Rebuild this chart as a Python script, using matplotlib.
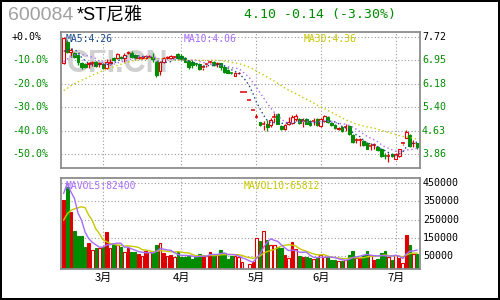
import numpy as np
import pandas as pd
import matplotlib
matplotlib.use('Agg')
import matplotlib.pyplot as plt
from matplotlib.patches import Rectangle
from matplotlib.transforms import blended_transform_factory as btf

# ---------------- data ----------------
code = "600084"
name = "*ST尼雅"

open_ = [6.85, 7.56, 7.23, 7.20, 7.12, 6.85, 6.81, 6.83, 6.86, 6.90,
         6.83, 6.81, 6.68, 6.85, 7.01, 7.01, 7.06, 7.01, 7.17, 7.20,
         7.12, 7.02, 7.02, 7.01, 7.05, 7.06, 6.90, 6.60, 6.90, 7.01,
         7.01, 7.05, 7.15, 7.10, 7.01, 6.92, 6.90, 6.85, 6.81, 6.70,
         6.80, 6.87, 6.90, 6.83, 6.85, 6.74, 6.63, 6.53, 6.43, 6.52,
         5.91, 5.91, 5.63, 5.33, 5.09, 4.91, 4.83, 4.87, 4.82, 5.06,
         5.17, 4.79, 4.68, 4.85, 4.90, 5.01, 5.01, 4.94, 5.01, 4.96,
         4.94, 5.01, 4.79, 4.96, 5.07, 4.90, 4.82, 4.68, 4.77, 4.74,
         4.79, 4.49, 4.32, 4.32, 4.29, 4.22, 4.12, 4.15, 4.11, 4.02,
         3.82, 3.80, 3.86, 3.72, 3.81, 4.21, 4.41, 4.49, 4.22, 4.24]
high = [7.70, 7.61, 7.34, 7.23, 7.15, 6.90, 6.85, 6.90, 6.93, 6.93,
        6.90, 6.85, 6.99, 6.99, 7.04, 7.20, 7.09, 7.17, 7.26, 7.26,
        7.15, 7.09, 7.09, 7.12, 7.11, 7.17, 6.93, 6.93, 7.04, 7.10,
        7.12, 7.10, 7.20, 7.15, 7.04, 6.96, 6.96, 6.87, 6.85, 6.79,
        6.87, 6.93, 6.93, 6.88, 6.86, 6.76, 6.65, 6.55, 6.56, 6.57,
        5.91, 5.91, 5.63, 5.33, 5.17, 4.93, 4.96, 4.98, 5.04, 5.20,
        5.20, 4.82, 4.85, 5.07, 5.15, 5.18, 5.04, 5.04, 5.04, 4.99,
        5.04, 5.04, 5.04, 5.15, 5.12, 4.93, 4.85, 4.76, 4.80, 4.87,
        4.82, 4.52, 4.38, 4.38, 4.33, 4.25, 4.22, 4.22, 4.14, 4.05,
        3.89, 3.89, 3.89, 3.89, 4.05, 4.25, 4.66, 4.52, 4.33, 4.24]
low = [6.82, 7.20, 7.06, 7.01, 6.79, 6.65, 6.68, 6.68, 6.76, 6.71,
       6.74, 6.65, 6.65, 6.79, 6.93, 6.98, 6.98, 6.90, 7.15, 7.01,
       6.98, 6.98, 6.98, 6.98, 7.02, 6.90, 6.39, 6.46, 6.87, 6.98,
       6.98, 7.01, 6.96, 6.96, 6.88, 6.65, 6.68, 6.76, 6.63, 6.63,
       6.74, 6.81, 6.76, 6.74, 6.63, 6.52, 6.52, 6.48, 6.42, 6.51,
       5.91, 5.91, 5.63, 5.33, 5.04, 4.80, 4.66, 4.63, 4.77, 4.93,
       4.85, 4.66, 4.66, 4.82, 4.85, 4.96, 4.85, 4.77, 4.84, 4.79,
       4.82, 4.79, 4.76, 4.93, 4.90, 4.79, 4.70, 4.66, 4.60, 4.63,
       4.49, 4.24, 4.22, 4.13, 4.13, 4.02, 4.00, 4.03, 3.98, 3.78,
       3.69, 3.62, 3.78, 3.69, 3.78, 4.18, 4.38, 4.11, 4.11, 4.05]
close = [7.67, 7.23, 7.28, 7.06, 6.90, 6.71, 6.71, 6.85, 6.87, 6.76,
         6.85, 6.68, 6.88, 6.90, 6.96, 7.15, 7.01, 7.12, 7.23, 7.06,
         7.01, 7.04, 7.04, 7.09, 7.06, 6.98, 6.46, 6.90, 7.01, 7.06,
         7.09, 7.06, 7.01, 6.98, 6.90, 6.74, 6.79, 6.84, 6.65, 6.71,
         6.81, 6.88, 6.79, 6.85, 6.71, 6.57, 6.54, 6.52, 6.54, 6.54,
         5.91, 5.91, 5.63, 5.33, 5.10, 4.82, 4.84, 4.77, 4.98, 5.07,
         4.87, 4.68, 4.82, 4.93, 5.07, 5.12, 4.90, 4.95, 4.87, 4.82,
         4.95, 4.82, 5.01, 5.12, 4.93, 4.82, 4.73, 4.73, 4.63, 4.74,
         4.52, 4.27, 4.33, 4.33, 4.16, 4.05, 4.13, 4.16, 4.00, 3.81,
         3.81, 3.81, 3.80, 3.87, 4.02, 4.22, 4.60, 4.13, 4.24, 4.10]
volume = [358000, 431500, 294000, 188000, 160400, 160400, 101800, 120000, 83500, 92600,
          96300, 101800, 180500, 92600, 116400, 110900, 101800, 70600, 92600, 70600,
          74300, 63300, 52300, 78000, 74300, 65200, 110900, 120000, 68800, 50500,
          56000, 46800, 70000, 46800, 46800, 52300, 34000, 46800, 59700, 52300,
          52300, 74300, 56000, 56000, 81600, 65200, 34000, 52300, 52300, 46800,
          15700, 0, 4700, 15700, 147600, 133000, 188000, 138400, 111000, 111000,
          101800, 92600, 56000, 37700, 125600, 89000, 50500, 46800, 46800, 37700,
          34000, 41300, 56000, 46800, 46800, 28500, 28500, 23000, 23000, 28500,
          56000, 78000, 41300, 41300, 56000, 78000, 56000, 28500, 34000, 65200,
          75000, 46800, 28520, 54500, 41300, 12000, 168000, 108000, 61000, 63000]
# red volume bars drawn solid (others red are hollow)
solid_red_vol = [0, 2, 7, 12, 18, 21, 23, 28, 30, 39, 41, 53, 62, 64, 67, 83, 87, 94, 96]

# closes / volumes before the first shown day (needed for the moving averages)
pre_close = [4.90, 4.95, 5.00, 5.05, 5.10, 5.12, 5.15, 5.20, 5.25, 5.30, 5.39,
             5.50, 5.60, 5.70, 5.80, 5.90, 6.00, 6.10, 6.20, 6.30, 6.40, 6.49,
             6.50, 6.60, 6.80, 7.00, 7.10, 7.20, 7.23]
pre_volume = [95000, 110000, 100000, 105000, 98000, 156000, 524000, 373000, 563000]

month_labels = ['3月', '4月', '5月', '6月', '7月']
month_start = [11, 33, 54, 72, 93]

price_base = 7.72
pct_levels = [0, -10, -20, -30, -40, -50]
vol_ticks = [450000, 350000, 250000, 150000, 50000]

# ---------------- style ----------------
RED = '#dd0000'
GREEN = '#008c00'
C_MA5 = '#1a4a8a'
C_MA10 = '#a66cff'
C_MA30 = '#c8c800'
GRID = '#999999'
SPINE = '#8c8c8c'
MONO = 'DejaVu Sans Mono'

W, H = 500, 300
fig = plt.figure(figsize=(5, 3), dpi=100)
fig.patch.set_facecolor('white')


def axrect(l, t, r, b):
    return [l / W, 1 - b / H, (r - l) / W, (b - t) / H]


axp = fig.add_axes(axrect(60.7, 31.7, 420.3, 167.7))
axv = fig.add_axes(axrect(60.7, 178.3, 420.3, 269.3))

n = len(close)
x = np.arange(n)
xlim = (-0.84, n - 1 + 0.92)

# moving averages
allc = pd.Series(pre_close + close)
ma5 = allc.rolling(5).mean().to_numpy()[len(pre_close):]
ma10 = allc.rolling(10).mean().to_numpy()[len(pre_close):]
ma30 = allc.rolling(30).mean().to_numpy()[len(pre_close):]
allv = pd.Series(pre_volume + volume, dtype=float)
mav5 = allv.rolling(5).mean().to_numpy()[len(pre_volume):]
mav10 = allv.rolling(10).mean().to_numpy()[len(pre_volume):]

for ax in (axp, axv):
    ax.set_xlim(*xlim)
    ax.set_xticks([])
    ax.set_yticks([])
    for s in ax.spines.values():
        s.set_color(SPINE)
        s.set_linewidth(1.3)
    for m in month_start:
        ax.axvline(m, color=GRID, lw=0.8, ls=(0, (1, 2)), zorder=0)

# ---------------- price panel ----------------
step = price_base * 0.1
p_top = price_base + 5 / 23.5 * step
p_bot = price_base * 0.5 - 13.4 / 23.5 * step
axp.set_ylim(p_bot, p_top)
levels = [price_base * (1 + p / 100) for p in pct_levels]
for lv in levels:
    axp.axhline(lv, color=GRID, lw=0.8, ls=(0, (1, 2)), zorder=0)

axp.text(0.157, 0.7625, 'CFI.CN', transform=axp.transAxes, ha='center', va='center',
         fontsize=22, fontweight='bold', family='Liberation Sans', color='#d0d0d0', zorder=0.5)

bw = 0.8
for i in x:
    o, h, l, c = open_[i], high[i], low[i], close[i]
    up = c >= o
    col = RED if up else GREEN
    lo_b, hi_b = min(o, c), max(o, c)
    axp.vlines(i, l, lo_b, color=col, lw=0.9, zorder=2)
    axp.vlines(i, hi_b, h, color=col, lw=0.9, zorder=2)
    if hi_b - lo_b < 0.012:
        axp.hlines(c, i - bw / 2 - 0.1, i + bw / 2 + 0.1, color=col, lw=1.1, zorder=3)
    else:
        axp.add_patch(Rectangle((i - bw / 2, lo_b), bw, hi_b - lo_b,
                                facecolor='white' if up else col, edgecolor=col,
                                lw=0.8, zorder=3))

axp.plot(x, ma30, color=C_MA30, lw=1.0, ls=(0, (1, 2)), zorder=4)
axp.plot(x, ma10, color=C_MA10, lw=1.0, ls=(0, (1, 2)), zorder=4)
axp.plot(x, ma5, color=C_MA5, lw=1.0, ls=(0, (1, 2)), zorder=4)

# ---------------- volume panel ----------------
v_bot = -23000
axv.set_ylim(v_bot, 477000)
for t in vol_ticks:
    axv.axhline(t, color=GRID, lw=0.8, ls=(0, (1, 2)), zorder=0)
vw = 0.72
for i in x:
    v = volume[i]
    if v <= 0:
        continue
    up = close[i] >= open_[i]
    if not up:
        fc, ec = GREEN, GREEN
    elif i in solid_red_vol:
        fc, ec = RED, RED
    else:
        fc, ec = 'white', RED
    axv.add_patch(Rectangle((i - vw / 2, v_bot), vw, v - v_bot,
                            facecolor=fc, edgecolor=ec, lw=0.8, zorder=2))
axv.plot(x, mav10, color=C_MA30, lw=1.0, zorder=4)
axv.plot(x, mav5, color=C_MA10, lw=1.0, zorder=4)

# ---------------- texts ----------------
tp = btf(fig.transFigure, axp.transData)
for p, lv in zip(pct_levels, levels):
    c = 'black' if p == 0 else GREEN
    lab = '+0.0%' if p == 0 else f'{p:.1f}%'
    axp.text(12 / W, lv, lab, transform=tp, ha='left', va='center',
             family=MONO, fontsize=7.2, color=c)
    axp.text(422 / W, lv, f'{lv:.2f}', transform=tp, ha='left', va='center',
             family=MONO, fontsize=7.2, color=c)

tv = btf(fig.transFigure, axv.transData)
for t in vol_ticks:
    axv.text(423 / W, t, f'{t}', transform=tv, ha='left', va='center',
             family=MONO, fontsize=7.2, color='black')

tm = btf(axv.transData, fig.transFigure)
for lab, m in zip(month_labels, month_start):
    axv.text(m, 1 - 277.5 / H, lab, transform=tm, ha='center', va='center',
             family=['Noto Sans CJK SC', 'DejaVu Sans'], fontsize=8, color='black')

fig.text(66 / W, 1 - 38.5 / H, f'MA5:{ma5[-1]:.2f}', family=MONO, fontsize=7,
         color=C_MA5, va='center', ha='left')
fig.text(183.3 / W, 1 - 38.5 / H, f'MA10:{ma10[-1]:.2f}', family=MONO, fontsize=7,
         color=C_MA10, va='center', ha='left')
fig.text(303.3 / W, 1 - 38.5 / H, f'MA30:{ma30[-1]:.2f}', family=MONO, fontsize=7,
         color=C_MA30, va='center', ha='left')
fig.text(66 / W, 1 - 186 / H, f'MAVOL5:{mav5[-1]:.0f}', family=MONO, fontsize=7,
         color=C_MA10, va='center', ha='left')
fig.text(243.3 / W, 1 - 186 / H, f'MAVOL10:{mav10[-1]:.0f}', family=MONO, fontsize=7,
         color=C_MA30, va='center', ha='left')

last, prev = close[-1], close[-2]
chg = last - prev
fig.text(8 / W, 1 - 16 / H, code, family='Liberation Sans', fontsize=14,
         color='#a0a0a0', va='center', ha='left')
fig.text(77 / W, 1 - 16 / H, name, family=['Liberation Sans', 'Noto Sans CJK SC'],
         fontsize=13, color='black', va='center', ha='left')
fig.text(244 / W, 1 - 14.5 / H, f'{last:.2f} {chg:+.2f} ({chg / prev * 100:+.2f}%)',
         family=MONO, fontsize=9.5, color=GREEN, va='center', ha='left')

fig.add_artist(Rectangle((0, 0), 1, 1, transform=fig.transFigure, fill=False,
                         edgecolor='black', lw=2.9))

fig.savefig('out.png', dpi=100, facecolor='white')
